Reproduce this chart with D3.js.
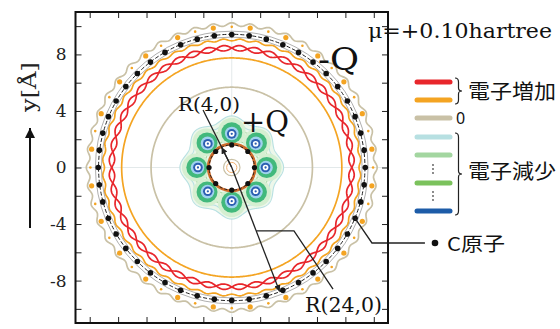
<!DOCTYPE html>
<html>
<head>
<meta charset="utf-8">
<script src="https://cdn.jsdelivr.net/npm/d3@7"></script>
<style>
body { margin: 0; background: #fff; }
svg { display: block; }
</style>
</head>
<body>
<svg id="fig" width="560" height="329"></svg>
<script>
// axis ticks in Å
const tickValues = [-10, -8, -6, -4, -2, 0, 2, 4, 6, 8, 10];
const yTickLabels = [-8, -4, 0, 4, 8];

// contour levels (legend order) and their colours
const levels = ['inc2', 'inc1', 'zero', 'dec1', 'dec2', 'dec3', 'dec4'];
const levelColors = ['#e8262b', '#f4a422', '#c9c1a6', '#b7e0e2', '#a3d6a0', '#7bc25c', '#1d5ca8'];

// ring-shaped contours around the tube axis (Å, degrees)
const ringRadius = [10.12, 9.03, 8.45, 8.45, 7.75, 5.68, 3.45, 3.18, 2.95, 1.98];
const ringAmp    = [0.12, 0.07, 0.19, -0.19, 0, 0, 0.2, 0.26, 0.3, 0.05];
const ringWaves  = [48, 48, 24, 24, 0, 0, 8, 8, 8, 8];
const ringPhase  = [0, 3.75, 3.75, 3.75, 0, 0, 0, 0, 0, 0];
const ringLevel  = ['zero', 'inc1', 'inc2', 'inc2', 'inc1', 'zero', 'dec1', 'dec1', 'dec2', 'dec2'];

// (24,0) and (4,0) tubes: radius and projected carbon positions
const outerTubeR = 9.4;
const innerTubeR = 1.6;
const outerAtomAngles = [0, 7.5, 15, 22.5, 30, 37.5, 45, 52.5, 60, 67.5, 75, 82.5, 90, 97.5, 105, 112.5,
  120, 127.5, 135, 142.5, 150, 157.5, 165, 172.5, 180, 187.5, 195, 202.5, 210, 217.5, 225, 232.5,
  240, 247.5, 255, 262.5, 270, 277.5, 285, 292.5, 300, 307.5, 315, 322.5, 330, 337.5, 345, 352.5];
const innerAtomAngles = [0, 45, 90, 135, 180, 225, 270, 315];

// small electron-gain islands just outside the outer tube
const islandR = 9.95;
const islandLargeAngles = [7.5, 22.5, 37.5, 52.5, 67.5, 82.5, 97.5, 112.5, 127.5, 142.5, 157.5, 172.5,
  187.5, 202.5, 217.5, 232.5, 247.5, 262.5, 277.5, 292.5, 307.5, 322.5, 337.5, 352.5];
const islandSmallAngles = [0, 15, 30, 45, 60, 75, 90, 105, 120, 135, 150, 165,
  180, 195, 210, 225, 240, 255, 270, 285, 300, 315, 330, 345];

// electron-loss lobes around the inner tube
const lobeR = 2.38;
const lobeAngles = [0, 45, 90, 135, 180, 225, 270, 315];

const rings = ringRadius.map((r, i) => ({
  r: r, amp: ringAmp[i], waves: ringWaves[i], phase: ringPhase[i], level: ringLevel[i]
}));

const svg = d3.select('#fig');
const x = d3.scaleLinear().domain([-11, 11]).range([75.5, 388]);
const y = d3.scaleLinear().domain([-11, 11]).range([323, 12]);
const rpx = d3.scaleLinear().domain([0, 1]).range([0, 14.17]);
const color = d3.scaleOrdinal().domain(levels).range(levelColors);

const rad = d => d * Math.PI / 180;
const polar = (r, a) => [r * Math.cos(rad(a)), r * Math.sin(rad(a))];
const line = d3.line().x(d => x(d[0])).y(d => y(d[1])).curve(d3.curveLinearClosed);
const sampleAngles = d3.range(0, 360, 0.5);
function ringPoints(d) {
  return sampleAngles.map(a => polar(d.r + d.amp * Math.cos(rad(d.waves * (a - d.phase))), a));
}

const defs = svg.append('defs');
defs.append('clipPath').attr('id', 'plotclip')
  .append('rect').attr('x', x(-11)).attr('y', y(11))
  .attr('width', x(11) - x(-11)).attr('height', y(-11) - y(11));
defs.append('marker').attr('id', 'arr')
  .attr('viewBox', '0 0 10 10').attr('refX', 10).attr('refY', 5)
  .attr('markerWidth', 5).attr('markerHeight', 5).attr('orient', 'auto')
  .append('path').attr('d', 'M0,0L10,5L0,10z').attr('fill', '#222');
defs.append('marker').attr('id', 'yarr')
  .attr('viewBox', '0 0 10 10').attr('refX', 10).attr('refY', 5)
  .attr('markerUnits', 'userSpaceOnUse')
  .attr('markerWidth', 15).attr('markerHeight', 10).attr('orient', 'auto')
  .append('path').attr('d', 'M0,0L10,5L0,10z').attr('fill', '#111');

const plot = svg.append('g').attr('clip-path', 'url(#plotclip)');

// faint axis cross
plot.append('line').attr('x1', x(-11)).attr('x2', x(11)).attr('y1', y(0)).attr('y2', y(0))
  .attr('stroke', '#e3e9ea').attr('stroke-width', 1);
plot.append('line').attr('x1', x(0)).attr('x2', x(0)).attr('y1', y(-11)).attr('y2', y(11))
  .attr('stroke', '#e3e9ea').attr('stroke-width', 1);

// pale electron-loss area round the inner tube
plot.append('path').attr('d', line(ringPoints(rings[6])))
  .attr('fill', '#edf7ea').attr('stroke', 'none');

// ring contours
plot.selectAll('path.ring')
  .data(rings)
  .join('path')
  .attr('class', 'ring')
  .attr('d', d => line(ringPoints(d)))
  .attr('fill', 'none')
  .attr('stroke', d => color(d.level))
  .attr('stroke-width', d => d.r > 5 ? 1.7 : 1.1);

// lobes: nested filled contours
const lobeLayers = [
  { r: 0.98, off: 0.14, fill: '#d5efd1' },
  { r: 0.74, off: 0.08, fill: '#42b97c' },
  { r: 0.48, off: 0.03, fill: '#9fd2ee' },
  { r: 0.34, off: 0, fill: '#2d5fb2' },
  { r: 0.2, off: 0, fill: '#ffffff' },
  { r: 0.08, off: 0, fill: '#2d5fb2' }
];
lobeLayers.forEach(L => {
  plot.selectAll(null)
    .data(lobeAngles)
    .join('circle')
    .attr('cx', a => x(polar(lobeR + L.off, a)[0]))
    .attr('cy', a => y(polar(lobeR + L.off, a)[1]))
    .attr('r', rpx(L.r))
    .attr('fill', L.fill);
});

// inner tube: gain band, dashed wall, atoms
const innerG = plot.append('g');
innerG.append('circle').attr('cx', x(0)).attr('cy', y(0)).attr('r', rpx(innerTubeR + 0.05))
  .attr('fill', '#fff').attr('stroke', '#cf6a2a').attr('stroke-width', 3);
innerG.append('circle').attr('cx', x(0)).attr('cy', y(0)).attr('r', rpx(innerTubeR))
  .attr('fill', 'none').attr('stroke', '#222').attr('stroke-width', 1).attr('stroke-dasharray', '3,2');
innerG.append('circle').attr('cx', x(0)).attr('cy', y(0)).attr('r', rpx(0.58))
  .attr('fill', 'none').attr('stroke', '#c9c1a6').attr('stroke-width', 1.2);
innerG.append('circle').attr('cx', x(0)).attr('cy', y(0)).attr('r', rpx(0.36))
  .attr('fill', 'none').attr('stroke', '#f0b070').attr('stroke-width', 1);
innerG.selectAll('circle.atom')
  .data(innerAtomAngles)
  .join('circle')
  .attr('class', 'atom')
  .attr('cx', a => x(polar(innerTubeR, a)[0]))
  .attr('cy', a => y(polar(innerTubeR, a)[1]))
  .attr('r', 2.6).attr('fill', '#111');

// outer tube wall: thin guides, dashed wall, islands, atoms
[outerTubeR + 0.22, outerTubeR - 0.2].forEach(r => {
  plot.append('circle').attr('cx', x(0)).attr('cy', y(0)).attr('r', rpx(r))
    .attr('fill', 'none').attr('stroke', '#9a9a9a').attr('stroke-width', 0.8);
});
plot.append('circle').attr('cx', x(0)).attr('cy', y(0)).attr('r', rpx(outerTubeR))
  .attr('fill', 'none').attr('stroke', '#222').attr('stroke-width', 1).attr('stroke-dasharray', '4,2');
plot.selectAll('circle.islandL')
  .data(islandLargeAngles)
  .join('circle')
  .attr('class', 'islandL')
  .attr('cx', a => x(polar(islandR, a)[0]))
  .attr('cy', a => y(polar(islandR, a)[1]))
  .attr('r', 2.6).attr('fill', '#f4a422');
plot.selectAll('circle.islandS')
  .data(islandSmallAngles)
  .join('circle')
  .attr('class', 'islandS')
  .attr('cx', a => x(polar(islandR, a)[0]))
  .attr('cy', a => y(polar(islandR, a)[1]))
  .attr('r', 1.3).attr('fill', '#f4a422');
plot.selectAll('circle.oatom')
  .data(outerAtomAngles)
  .join('circle')
  .attr('class', 'oatom')
  .attr('cx', a => x(polar(outerTubeR, a)[0]))
  .attr('cy', a => y(polar(outerTubeR, a)[1]))
  .attr('r', 2.8).attr('fill', '#111');

// radius arrows and leaders
const ann = svg.append('g').attr('stroke', '#222').attr('stroke-width', 1.3).attr('fill', 'none');
const label4 = [-2.02, 4.07];
const r24dir = -69;
const p = (pt) => [x(pt[0]), y(pt[1])];
ann.append('line')
  .attr('x1', x(label4[0])).attr('y1', y(label4[1])).attr('x2', x(0)).attr('y2', y(0));
ann.append('line')
  .attr('x1', x(0)).attr('y1', y(0))
  .attr('x2', x(polar(innerTubeR, 116.4)[0])).attr('y2', y(polar(innerTubeR, 116.4)[1]))
  .attr('marker-end', 'url(#arr)');
ann.append('line')
  .attr('x1', x(0)).attr('y1', y(0))
  .attr('x2', x(polar(outerTubeR, r24dir)[0])).attr('y2', y(polar(outerTubeR, r24dir)[1]))
  .attr('marker-end', 'url(#arr)');
const r24leader = [polar(4.8, r24dir), [4.38, polar(4.8, r24dir)[1]], [7.13, -8.6]];
ann.append('path').attr('d', d3.line()(r24leader.map(p)));
const cLeader = [polar(outerTubeR, -22.5), [9.87, -5.34], [13.6, -5.34]];
ann.append('path').attr('d', d3.line()(cLeader.map(p)));

// axes: inward ticks on all four sides
const tick = 6;
svg.append('g').attr('transform', `translate(${x(-11)},0)`)
  .call(d3.axisLeft(y).tickValues(tickValues).tickSize(-tick).tickPadding(9)
    .tickFormat(d => yTickLabels.includes(d) ? d : ''));
svg.append('g').attr('transform', `translate(${x(11)},0)`)
  .call(d3.axisRight(y).tickValues(tickValues).tickSize(-tick).tickFormat(''));
svg.append('g').attr('transform', `translate(0,${y(11)})`)
  .call(d3.axisTop(x).tickValues(tickValues).tickSize(-tick).tickFormat(''));
svg.append('g').attr('transform', `translate(0,${y(-11)})`)
  .call(d3.axisBottom(x).tickValues(tickValues).tickSize(-tick).tickFormat(''));
svg.selectAll('.domain').remove();
svg.selectAll('.tick line').attr('stroke', '#222').attr('stroke-width', 1);
svg.selectAll('.tick text')
  .attr('font-family', 'DejaVu Serif').attr('font-size', 17).attr('fill', '#222');
svg.append('rect')
  .attr('x', x(-11)).attr('y', y(11))
  .attr('width', x(11) - x(-11)).attr('height', y(-11) - y(11))
  .attr('fill', 'none').attr('stroke', '#111').attr('stroke-width', 2);

// y label and arrow
svg.append('text')
  .attr('transform', 'translate(36,87) rotate(-90)')
  .attr('text-anchor', 'middle')
  .attr('font-family', 'DejaVu Serif').attr('font-size', 21).attr('fill', '#222')
  .attr('textLength', 50).attr('lengthAdjust', 'spacingAndGlyphs')
  .text('y[Å]');
svg.append('line').attr('x1', 30).attr('y1', 228).attr('x2', 30).attr('y2', 128)
  .attr('stroke', '#111').attr('stroke-width', 2).attr('marker-end', 'url(#yarr)');

// annotations
const serif = 'DejaVu Serif';
svg.append('text').attr('x', 368).attr('y', 38)
  .attr('font-family', serif).attr('font-size', 20).attr('fill', '#111')
  .attr('textLength', 184).attr('lengthAdjust', 'spacingAndGlyphs')
  .text('μ=+0.10hartree');
svg.append('text').attr('x', 318).attr('y', 70)
  .attr('font-family', serif).attr('font-size', 31).attr('fill', '#111')
  .attr('textLength', 41).attr('lengthAdjust', 'spacingAndGlyphs')
  .text('-Q');
svg.append('text').attr('x', 241).attr('y', 132)
  .attr('font-family', serif).attr('font-size', 29).attr('fill', '#111')
  .attr('textLength', 48).attr('lengthAdjust', 'spacingAndGlyphs')
  .text('+Q');
svg.append('text').attr('x', 178).attr('y', 111)
  .attr('font-family', serif).attr('font-size', 19).attr('fill', '#111')
  .attr('textLength', 62).attr('lengthAdjust', 'spacingAndGlyphs')
  .text('R(4,0)');
svg.append('text').attr('x', 305).attr('y', 312)
  .attr('font-family', serif).attr('font-size', 20).attr('fill', '#111')
  .attr('textLength', 77).attr('lengthAdjust', 'spacingAndGlyphs')
  .text('R(24,0)');

// legend
const legendY = [82, 100, 118, 137, 155, 183, 211];
const lg = svg.append('g');
lg.selectAll('line.key')
  .data(levels)
  .join('line')
  .attr('class', 'key')
  .attr('x1', 417).attr('x2', 450)
  .attr('y1', (d, i) => legendY[i]).attr('y2', (d, i) => legendY[i])
  .attr('stroke', d => color(d)).attr('stroke-width', 5).attr('stroke-linecap', 'round');
[[165, 169, 173], [192, 196, 200]].forEach(ys => {
  lg.selectAll(null).data(ys).join('circle')
    .attr('cx', 433).attr('cy', d => d).attr('r', 0.9).attr('fill', '#555');
});
function brace(bx, y0, y1) {
  const w = 7, m = (y0 + y1) / 2, h = w / 2;
  return `M${bx},${y0} Q${bx + h},${y0} ${bx + h},${y0 + 4} L${bx + h},${m - 3} ` +
    `Q${bx + h},${m} ${bx + w},${m} Q${bx + h},${m} ${bx + h},${m + 3} ` +
    `L${bx + h},${y1 - 4} Q${bx + h},${y1} ${bx},${y1}`;
}
lg.append('path').attr('d', brace(455, 78, 104))
  .attr('fill', 'none').attr('stroke', '#222').attr('stroke-width', 1.2);
lg.append('path').attr('d', brace(455, 133, 215))
  .attr('fill', 'none').attr('stroke', '#222').attr('stroke-width', 1.2);
const cjk = 'Noto Sans CJK JP';
lg.append('text').attr('x', 468).attr('y', 99)
  .attr('font-family', cjk).attr('font-size', 20).attr('fill', '#111')
  .attr('textLength', 88).attr('lengthAdjust', 'spacingAndGlyphs')
  .text('電子増加');
lg.append('text').attr('x', 456).attr('y', 124)
  .attr('font-family', 'Noto Sans').attr('font-size', 16).attr('fill', '#111')
  .text('0');
lg.append('text').attr('x', 468).attr('y', 179)
  .attr('font-family', cjk).attr('font-size', 20).attr('fill', '#111')
  .attr('textLength', 88).attr('lengthAdjust', 'spacingAndGlyphs')
  .text('電子減少');
lg.append('circle').attr('cx', 435).attr('cy', 243).attr('r', 3.3).attr('fill', '#111');
lg.append('text').attr('x', 447).attr('y', 251)
  .attr('font-family', cjk).attr('font-size', 19).attr('fill', '#111')
  .attr('textLength', 58).attr('lengthAdjust', 'spacingAndGlyphs')
  .text('C原子');
</script>
</body>
</html>
